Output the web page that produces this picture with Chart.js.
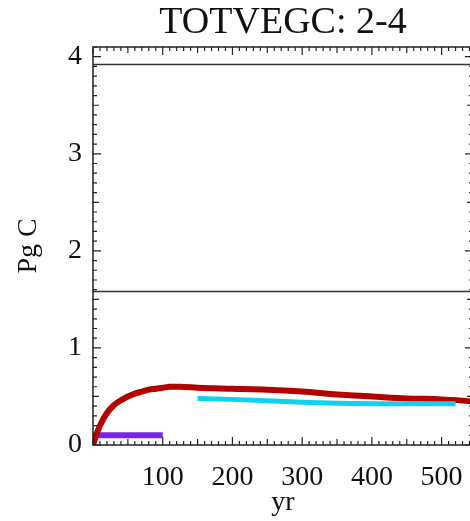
<!DOCTYPE html>
<html>
<head>
<meta charset="utf-8">
<script src="https://cdn.jsdelivr.net/npm/chart.js@4/dist/chart.umd.min.js"></script>
<style>
  html, body { margin: 0; padding: 0; background: #fff; overflow: hidden; }
  #wrap { width: 480px; height: 521px; }
</style>
</head>
<body>
<div id="wrap"><canvas id="chart" width="480" height="521"></canvas></div>
<script>
// values
const redYears = [0, 5, 10, 20, 30, 40, 50, 60, 70, 80, 90, 100, 110, 125, 150, 200, 250, 300, 350, 400, 450, 500, 545];
const redValues = [0.0, 0.11, 0.2, 0.33, 0.41, 0.46, 0.5, 0.53, 0.55, 0.57, 0.58, 0.59, 0.6, 0.6, 0.59, 0.58, 0.57, 0.55, 0.52, 0.5, 0.48, 0.47, 0.45];

const cyanYears = [150, 200, 250, 300, 350, 400, 450, 500, 520];
const cyanValues = [0.48, 0.47, 0.455, 0.44, 0.43, 0.425, 0.425, 0.425, 0.425];

const purpleYears = [0, 100];
const purpleValues = [0.1, 0.1];

const refYears = [0, 545];
const upperRef = [3.92, 3.92];
const lowerRef = [1.58, 1.58];

const xTickValues = [100, 200, 300, 400, 500];
const yTickValues = [0, 1, 2, 3, 4];

const serif = "'Liberation Serif', 'DejaVu Serif', serif";

function pts(xs, ys) {
    return xs.map((x, i) => ({ x: x, y: ys[i] }));
}

// Mathematica style frame with inward ticks
const framePlugin = {
    id: 'frame',
    afterDraw(chart) {
        const ctx = chart.ctx;
        const a = chart.chartArea;
        const xs = chart.scales.x;
        const ys = chart.scales.y;
        ctx.save();
        ctx.strokeStyle = '#222';
        ctx.lineWidth = 1.5;
        ctx.strokeRect(a.left, a.top, a.right - a.left, a.bottom - a.top);
        ctx.lineWidth = 1.2;
        ctx.beginPath();
        for (let v = 0; v <= xs.max; v += 10) {
            const px = xs.getPixelForValue(v);
            const len = v % 100 === 0 ? 8 : (v % 50 === 0 ? 6 : 4);
            ctx.moveTo(px, a.bottom); ctx.lineTo(px, a.bottom - len);
            ctx.moveTo(px, a.top); ctx.lineTo(px, a.top + len);
        }
        for (let i = 0; i <= 41; i++) {
            const v = i / 10;
            const py = ys.getPixelForValue(v);
            const len = i % 10 === 0 ? 8 : (i % 5 === 0 ? 6 : 4);
            ctx.moveTo(a.left, py); ctx.lineTo(a.left + len, py);
            ctx.moveTo(a.right, py); ctx.lineTo(a.right - len, py);
        }
        ctx.stroke();
        ctx.restore();
    }
};

const ctx = document.getElementById('chart').getContext('2d');
new Chart(ctx, {
    type: 'line',
    data: {
        datasets: [
            { data: pts(refYears, upperRef), borderColor: '#333', borderWidth: 1.5, order: 5 },
            { data: pts(refYears, lowerRef), borderColor: '#333', borderWidth: 1.5, order: 5 },
            { data: pts(purpleYears, purpleValues), borderColor: '#7b22e8', borderWidth: 6, order: 3 },
            { data: pts(redYears, redValues), borderColor: '#b30000', borderWidth: 6, cubicInterpolationMode: 'monotone', order: 2 },
            { data: pts(cyanYears, cyanValues), borderColor: '#11d0f0', borderWidth: 5, order: 1 }
        ]
    },
    options: {
        responsive: false,
        animation: false,
        layout: { padding: { left: 0, right: 7, top: 0, bottom: 0 } },
        elements: { point: { radius: 0 }, line: { borderCapStyle: 'butt' } },
        plugins: {
            legend: { display: false },
            tooltip: { enabled: false },
            title: {
                display: true,
                text: 'TOTVEGC: 2-4',
                fullSize: false,
                color: '#111',
                font: { family: serif, size: 38, weight: 'normal' },
                padding: { top: 0, bottom: 1.4 }
            }
        },
        scales: {
            x: {
                type: 'linear',
                min: 0,
                max: 545,
                afterBuildTicks: s => { s.ticks = xTickValues.map(v => ({ value: v })); },
                afterFit: s => { s.height = 76; },
                grid: { display: false, drawTicks: false },
                border: { display: false },
                ticks: { color: '#111', padding: 16, maxRotation: 0, font: { family: serif, size: 28 } },
                title: { display: true, text: 'yr', color: '#111', font: { family: serif, size: 28 }, padding: { top: 0, bottom: 2 } }
            },
            y: {
                min: 0,
                max: 4.1,
                afterBuildTicks: s => { s.ticks = yTickValues.map(v => ({ value: v })); },
                afterFit: s => { s.width = 93; },
                grid: { display: false, drawTicks: false },
                border: { display: false },
                ticks: { color: '#111', padding: 11, font: { family: serif, size: 28 } },
                title: { display: true, text: 'Pg C', color: '#111', font: { family: serif, size: 28 }, padding: { top: 12, bottom: 0 } }
            }
        }
    },
    plugins: [framePlugin]
});
</script>
</body>
</html>
